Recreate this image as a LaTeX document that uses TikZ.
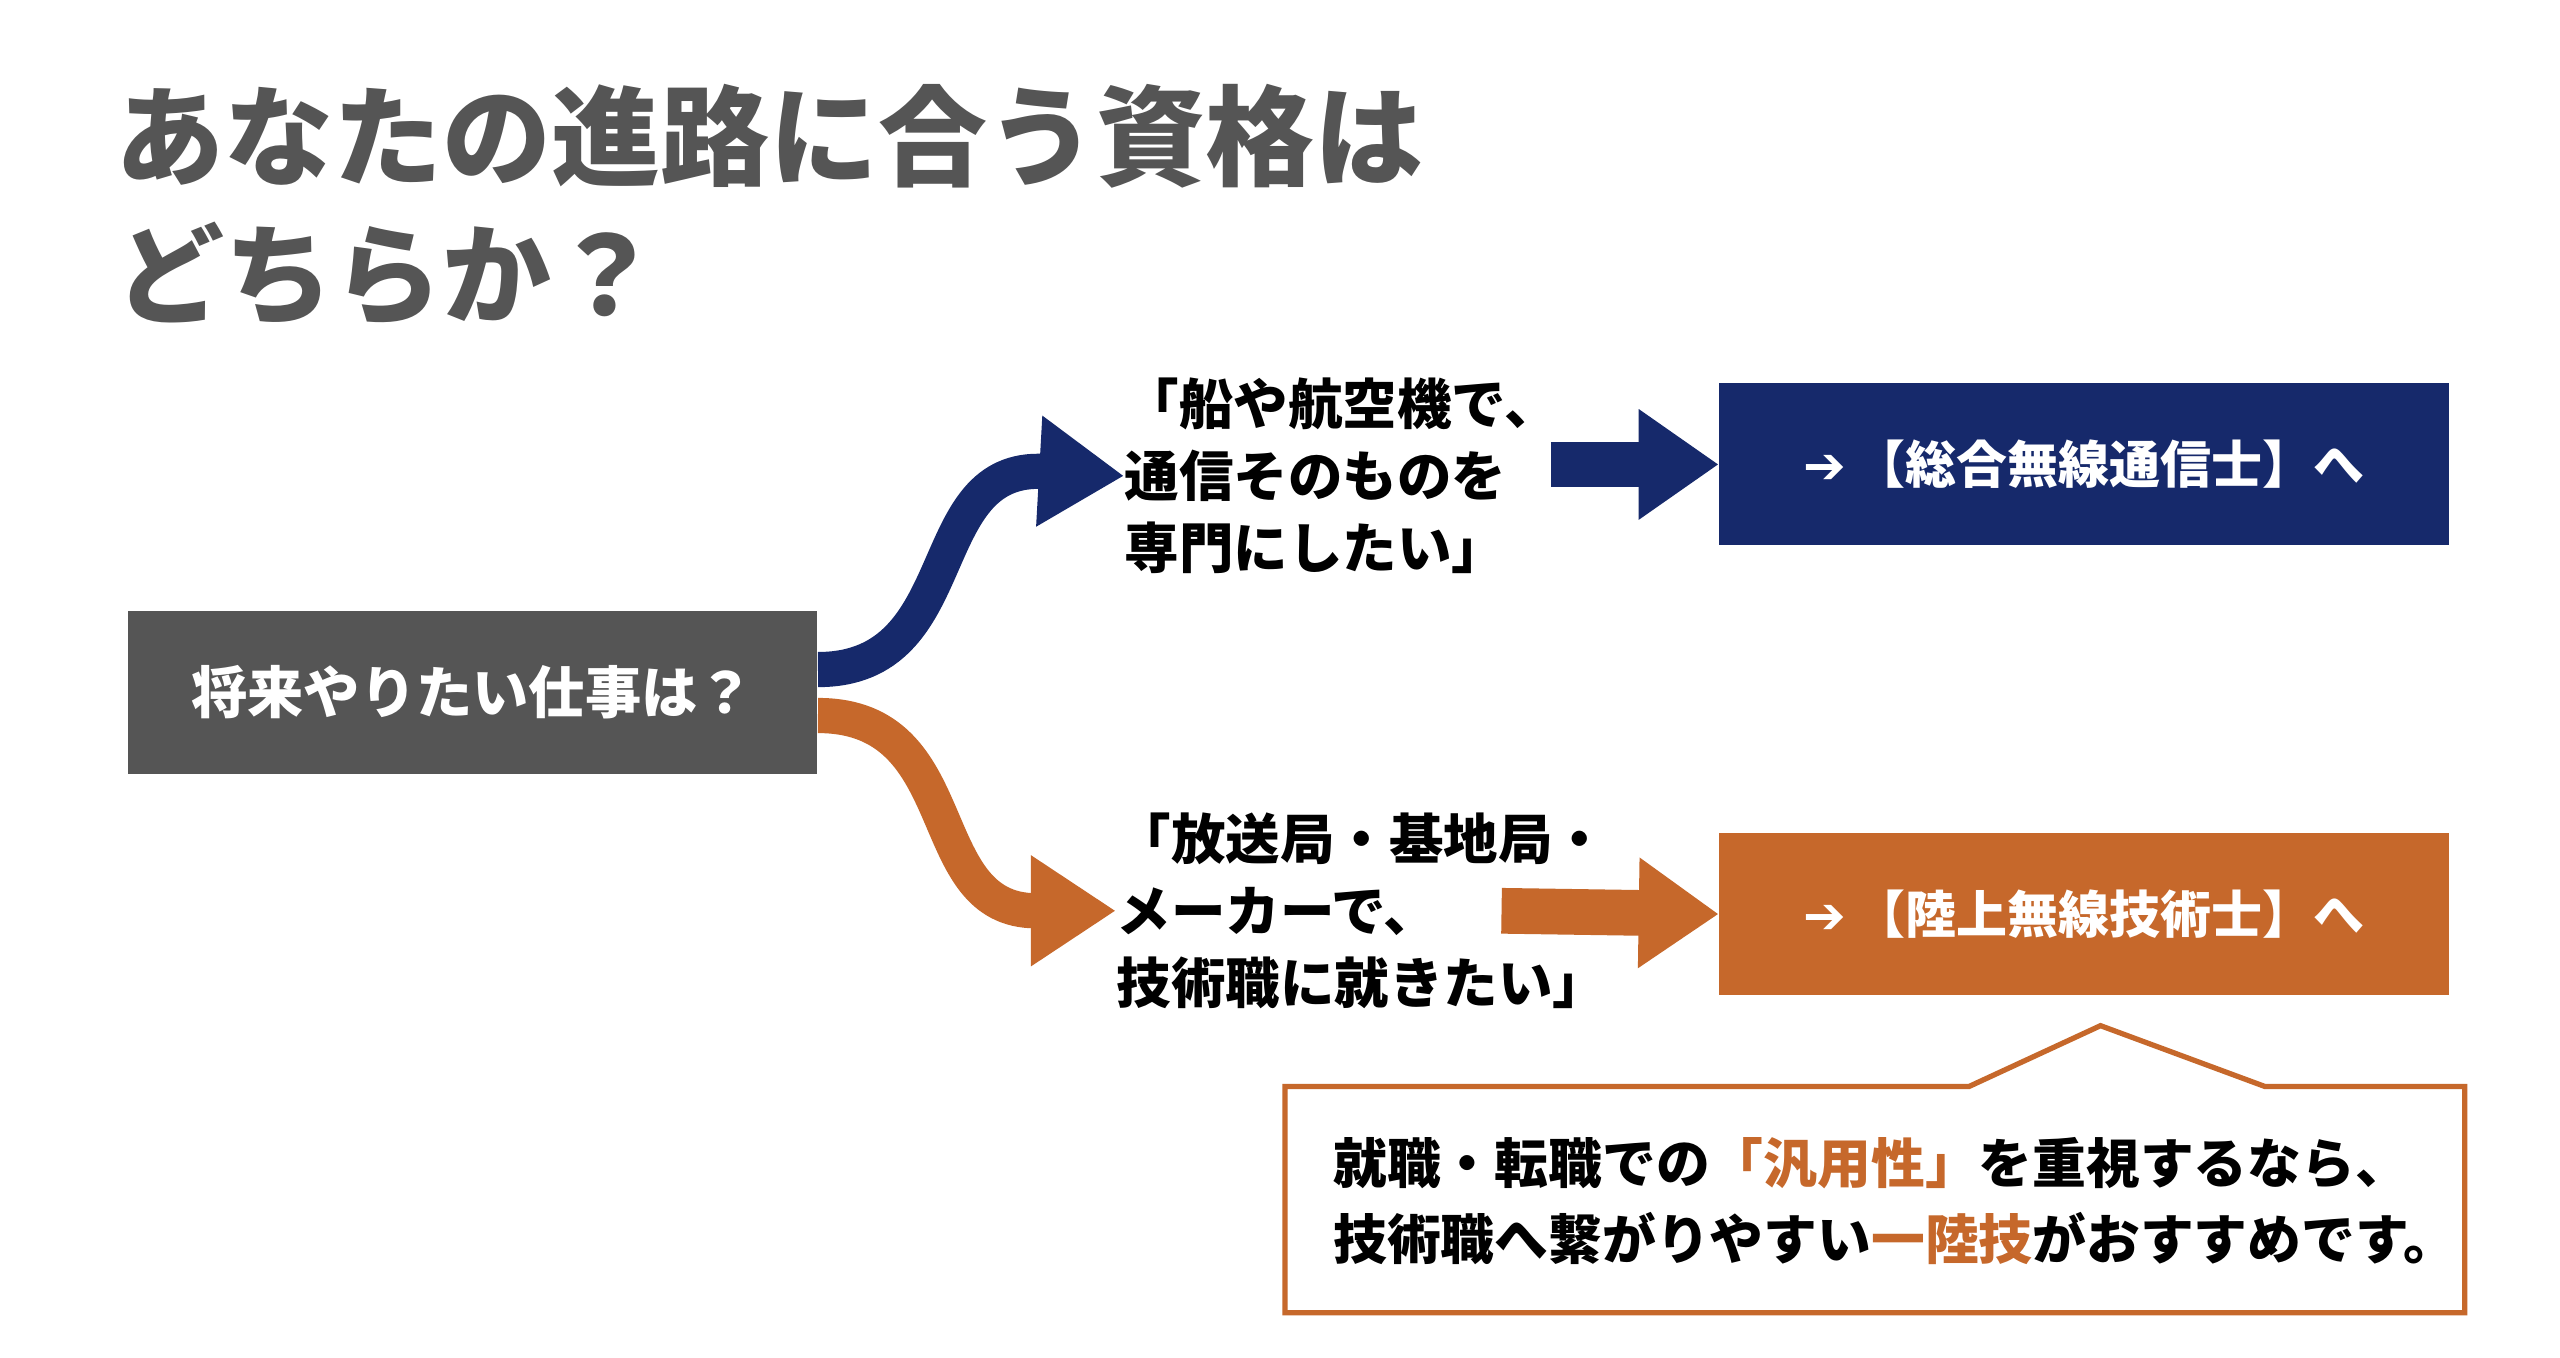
\documentclass[tikz,border=0pt]{standalone}
\usepackage{fontspec}
\setmainfont{Noto Sans CJK JP}
\newfontfamily\symfont{DejaVu Sans}
\usetikzlibrary{arrows.meta,positioning}
\definecolor{navy}{HTML}{16296B}
\definecolor{rust}{HTML}{C6682B}
\definecolor{slate}{HTML}{555555}
\begin{document}
\begin{tikzpicture}[
		x=0.01641cm, y=-0.01641cm,
		box/.style={minimum height=1.62cm, inner sep=0pt, text=white, font=\bfseries\fontsize{14.5}{18}\selectfont},
		quote/.style={anchor=west, align=left, inner sep=0pt, font=\bfseries\fontsize{15.5}{20.5}\selectfont},
		branch/.style={line width=10pt, -{Triangle[length=0.85cm,width=1.05cm]}},
		push/.style={line width=13pt, -{Triangle[length=0.8cm,width=1.05cm]}},
	]
		\useasboundingbox (0,0) rectangle (1560,827.5);
		\fill[white] (0,0) rectangle (1560,827.5);

		\node (title) at (70,125) [anchor=west, align=left, inner sep=0pt, text=slate,
			font=\bfseries\fontsize{31}{39}\selectfont] {あなたの進路に合う資格は\\どちらか？};

		\node (ask) at (288,422) [box, fill=slate, minimum width=6.89cm, font=\bfseries\fontsize{16}{20}\selectfont] {将来やりたい仕事は？};
		\node (q1) at (685,290) [quote] {「船や航空機で、\\通信そのものを\\専門にしたい」};
		\node (q2) at (680,555) [quote] {「放送局・基地局・\\メーカーで、\\技術職に就きたい」};
		\node (sogo) at (1270,283) [box, fill=navy, minimum width=7.29cm] {{\symfont ➔}\,【総合無線通信士】へ};
		\node (riku) at (1270,557) [box, fill=rust, minimum width=7.29cm] {{\symfont ➔}\,【陸上無線技術士】へ};

		% curved branches
		\draw[branch, navy] (ask.east |- 0,408) .. controls (590,408) and (560,283) .. (q1.west);
		\draw[branch, rust] (ask.east |- 0,436) .. controls (590,436) and (560,555) .. (q2.west);
		\draw[push, navy] (945,283) -- (sogo.west);
		\draw[push, rust] (915,555) -- (riku.west);

		% callout
		\draw[rust, line width=1.5pt, fill=white] (783,662) -- (1200,662) -- (1280,625) -- (1380,662)
			-- (1502,662) -- (1502,800) -- (783,800) -- cycle;
		\node (tip) at (812,732) [quote, font=\bfseries\fontsize{15.3}{21.5}\selectfont]
			{就職・転職での\textcolor{rust}{「汎用性」}を重視するなら、\\技術職へ繋がりやすい\textcolor{rust}{一陸技}がおすすめです。};
	\end{tikzpicture}
\end{document}
